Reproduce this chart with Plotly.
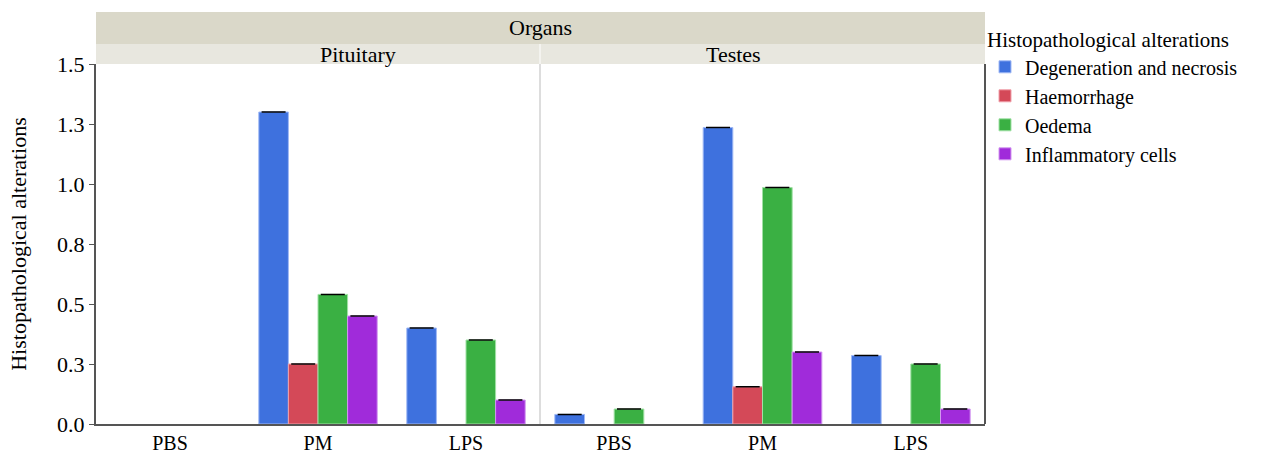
import plotly.graph_objects as go
from plotly.subplots import make_subplots

organs = ["Pituitary", "Testes"]
treatments = ["PBS", "PM", "LPS"]
series_names = ["Degeneration and necrosis", "Haemorrhage", "Oedema", "Inflammatory cells"]

# values per organ: each list is over treatments PBS, PM, LPS (None = no bar)
pituitary_degeneration = [None, 1.30, 0.40]
pituitary_haemorrhage = [None, 0.25, None]
pituitary_oedema = [None, 0.54, 0.35]
pituitary_inflammatory = [None, 0.45, 0.10]

testes_degeneration = [0.04, 1.235, 0.285]
testes_haemorrhage = [None, 0.155, None]
testes_oedema = [0.0625, 0.985, 0.25]
testes_inflammatory = [None, 0.30, 0.0625]

y_tickvals = [0, 0.25, 0.5, 0.75, 1.0, 1.25, 1.5]
y_ticktext = ["0.0", "0.3", "0.5", "0.8", "1.0", "1.3", "1.5"]

colors = ["rgb(62,113,222)", "rgb(212,73,88)", "rgb(58,176,67)", "rgb(160,43,218)"]
edge_colors = ["rgb(160,185,245)", "rgb(240,160,170)", "rgb(160,225,165)", "rgb(210,150,240)"]

FONT = "Liberation Serif"
FS = 22

fig = make_subplots(rows=1, cols=2, shared_yaxes=True, horizontal_spacing=0)

pit = [pituitary_degeneration, pituitary_haemorrhage, pituitary_oedema, pituitary_inflammatory]
tes = [testes_degeneration, testes_haemorrhage, testes_oedema, testes_inflammatory]

for col, data in ((1, pit), (2, tes)):
    for i, name in enumerate(series_names):
        vals = data[i]
        fig.add_trace(go.Bar(
            x=treatments, y=vals, name=name,
            marker=dict(color=colors[i], line=dict(color=edge_colors[i], width=1)),
            error_y=dict(type="data", array=[0 if v is not None else None for v in vals],
                         color="black", thickness=1.5, width=12, visible=True),
            showlegend=(col == 1), legendgroup=name,
        ), row=1, col=col)

TOP, BOT = 64, 424
PH = BOT - TOP
split = 444 / 889
fig.update_layout(
    width=1265, height=456,
    margin=dict(l=96, r=280, t=TOP, b=456 - BOT, autoexpand=False),
    paper_bgcolor="white", plot_bgcolor="white",
    barmode="group", bargap=0.2, bargroupgap=0,
    font=dict(family=FONT, size=FS, color="black"),
    legend=dict(
        title=dict(text="Histopathological alterations", font=dict(family=FONT, size=21)),
        x=1.0, xanchor="left", y=1 + (TOP - 20) / PH, yanchor="top",
        font=dict(family=FONT, size=20), tracegroupgap=0,
        itemwidth=30, bgcolor="rgba(0,0,0,0)",
    ),
)

fig.update_xaxes(domain=[0, split], row=1, col=1)
fig.update_xaxes(domain=[split, 1], row=1, col=2)
fig.update_xaxes(showline=True, linecolor="#555555", linewidth=2, ticks="", showgrid=False,
                 tickfont=dict(family=FONT, size=20), zeroline=False)
fig.update_yaxes(range=[0, 1.5], tickvals=y_tickvals, ticktext=y_ticktext, showgrid=False,
                 zeroline=False)
fig.update_yaxes(showline=True, linecolor="#555555", linewidth=2, ticks="outside", ticklen=5,
                 tickcolor="#555555", tickfont=dict(family=FONT, size=FS),
                 title=dict(text="Histopathological alterations", font=dict(family=FONT, size=FS), standoff=24),
                 row=1, col=1)
fig.update_yaxes(showline=False, ticks="", row=1, col=2)

# right border of second panel
fig.add_shape(type="line", xref="paper", yref="paper", x0=1, x1=1, y0=0, y1=1,
              line=dict(color="#555555", width=2))
# separator between panels
fig.add_shape(type="line", xref="paper", yref="paper", x0=split, x1=split, y0=0, y1=1,
              line=dict(color="#dddddd", width=2))

# facet strips
strip_top = 1 + (TOP - 12) / PH
strip_mid = 1 + 20 / PH
fig.add_shape(type="rect", xref="paper", yref="paper", x0=0, x1=1, y0=strip_mid, y1=strip_top,
              fillcolor="#dad8c9", line=dict(width=0), layer="below")
fig.add_shape(type="rect", xref="paper", yref="paper", x0=0, x1=split, y0=1, y1=strip_mid,
              fillcolor="#e8e7df", line=dict(width=0), layer="below")
fig.add_shape(type="rect", xref="paper", yref="paper", x0=split, x1=1, y0=1, y1=strip_mid,
              fillcolor="#e8e7df", line=dict(width=0), layer="below")
fig.add_shape(type="line", xref="paper", yref="paper", x0=split, x1=split, y0=1, y1=strip_mid,
              line=dict(color="white", width=1))

fig.add_annotation(text="Organs", xref="paper", yref="paper", x=0.5, y=(strip_mid + strip_top) / 2,
                   showarrow=False, font=dict(family=FONT, size=FS), yanchor="middle")
for name, xc in ((organs[0], split / 2), (organs[1], (split + 1) / 2)):
    fig.add_annotation(text=name, xref="paper", yref="paper", x=xc, y=(1 + strip_mid) / 2,
                       showarrow=False, font=dict(family=FONT, size=FS), yanchor="middle")

fig.write_html("out.html", config={"displayModeBar": False},
               post_script="document.body.style.margin='0';document.body.style.overflow='hidden';")
